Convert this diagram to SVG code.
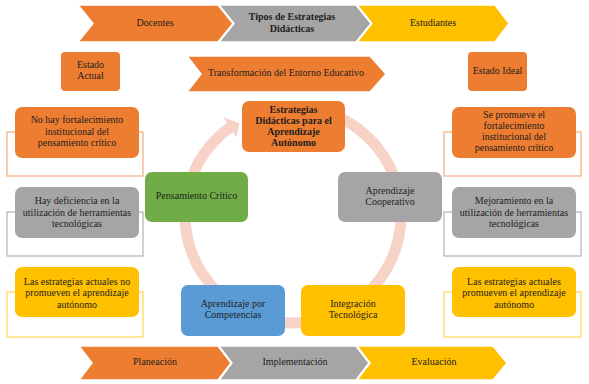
<svg xmlns="http://www.w3.org/2000/svg" width="589" height="384" viewBox="0 0 589 384" font-family="'Liberation Serif', 'Times New Roman', serif">
<style>
text{font-family:'Liberation Serif','Times New Roman',serif;font-size:10px;fill:#1e1e1e;text-anchor:middle;dominant-baseline:middle}
.b{font-weight:bold}
.chev{stroke:#fff;stroke-width:1.5}
.or{fill:#ED7D31}.gr{fill:#A5A5A5}.ye{fill:#FFC000}.gn{fill:#70AD47}.bl{fill:#5B9BD5}
.brk{fill:#fff;stroke-width:1.3}
</style>
<rect width="589" height="384" fill="#fff"/>
<g id="top-bar">
<polygon class="chev or" points="78,5 218,5 233,23.5 218,42 78,42 93,23.5"/>
<polygon class="chev gr" points="219,5 356,5 371,23.5 356,42 219,42 234,23.5"/>
<polygon class="chev ye" points="357,5 495,5 509,23.5 495,42 357,42 372,23.5"/>
<text x="155" y="24">Docentes</text>
<text class="b" x="292" y="18">Tipos de Estrategias</text>
<text class="b" x="292" y="29.5">Didácticas</text>
<text x="433" y="24">Estudiantes</text>
</g>
<g id="estado-actual"><rect class="or" x="61" y="52" width="59" height="39" rx="4"/><text x="90.5" y="66">Estado</text><text x="90.5" y="77">Actual</text></g>
<g id="transformacion"><polygon class="chev or" points="187,56 370,56 386,74 370,92 187,92 201,74"/><text x="286" y="74">Transformación del Entorno Educativo</text></g>
<g id="estado-ideal"><rect class="or" x="468" y="52" width="59" height="39" rx="4"/><text x="497.5" y="71.5">Estado Ideal</text></g>
<g id="connectors">
<path d="M256.1 113.5 A108 108 0 1 1 231.1 126.5" fill="none" stroke="#F7D2C6" stroke-width="11"/>
<polygon points="223.5,117.5 239.5,123 236.5,137" fill="#F7D2C6"/>
</g>
<g id="left-1"><rect class="brk" x="7" y="132" width="136" height="44" stroke="#F4B183"/><rect class="or" x="15" y="107" width="124" height="51" rx="7"/><text x="77" y="121">No hay fortalecimiento</text><text x="77" y="132.5">institucional del</text><text x="77" y="144">pensamiento crítico</text></g>
<g id="left-2"><rect class="brk" x="7" y="212" width="136" height="44" stroke="#B8B8B8"/><rect class="gr" x="15" y="187" width="124" height="51" rx="7"/><text x="77" y="202">Hay deficiencia en la</text><text x="77" y="213.5">utilización de herramientas</text><text x="77" y="225">tecnológicas</text></g>
<g id="left-3"><rect class="brk" x="7" y="292" width="136" height="45" stroke="#FFD966"/><rect class="ye" x="15" y="267" width="124" height="50" rx="7"/><text x="77" y="282.5">Las estrategias actuales no</text><text x="77" y="294">promueven el aprendizaje</text><text x="77" y="305.5">autónomo</text></g>
<g id="right-1"><rect class="brk" x="444" y="132" width="137" height="44" stroke="#F4B183"/><rect class="or" x="452" y="107" width="124" height="51" rx="7"/><text x="514" y="116">Se promueve el</text><text x="514" y="127">fortalecimiento</text><text x="514" y="138">institucional del</text><text x="514" y="149">pensamiento crítico</text></g>
<g id="right-2"><rect class="brk" x="444" y="212" width="137" height="44" stroke="#B8B8B8"/><rect class="gr" x="452" y="187" width="124" height="51" rx="7"/><text x="514" y="202">Mejoramiento en la</text><text x="514" y="213.5">utilización de herramientas</text><text x="514" y="225">tecnológicas</text></g>
<g id="right-3"><rect class="brk" x="444" y="292" width="137" height="45" stroke="#FFD966"/><rect class="ye" x="452" y="267" width="124" height="50" rx="7"/><text x="514" y="282.5">Las estrategias actuales</text><text x="514" y="294">promueven el aprendizaje</text><text x="514" y="305.5">autónomo</text></g>
<g id="estrategias"><rect class="or" x="242" y="101" width="103" height="51" rx="7"/><text class="b" x="293.5" y="111">Estrategias</text><text class="b" x="293.5" y="122">Didácticas para el</text><text class="b" x="293.5" y="133">Aprendizaje</text><text class="b" x="293.5" y="143.5">Autónomo</text></g>
<g id="pensamiento"><rect class="gn" x="145" y="172" width="103" height="50" rx="7"/><text x="196.5" y="197">Pensamiento Crítico</text></g>
<g id="cooperativo"><rect class="gr" x="338" y="172" width="104" height="50" rx="7"/><text x="390" y="191.5">Aprendizaje</text><text x="390" y="203">Cooperativo</text></g>
<g id="competencias"><rect class="bl" x="181" y="285" width="104" height="51" rx="7"/><text x="233" y="305">Aprendizaje por</text><text x="233" y="316">Competencias</text></g>
<g id="integracion"><rect class="ye" x="301" y="285" width="104" height="51" rx="7"/><text x="353" y="305">Integración</text><text x="353" y="316">Tecnológica</text></g>
<g id="bottom-bar">
<polygon class="chev or" points="79,346 218,346 231,363 218,380 79,380 92,363"/>
<polygon class="chev gr" points="219,346 356,346 369,363 356,380 219,380 232,363"/>
<polygon class="chev ye" points="357,346 493,346 507,363 493,380 357,380 370,363"/>
<text x="155" y="363">Planeación</text>
<text x="295" y="363">Implementación</text>
<text x="434" y="363">Evaluación</text>
</g>
</svg>
